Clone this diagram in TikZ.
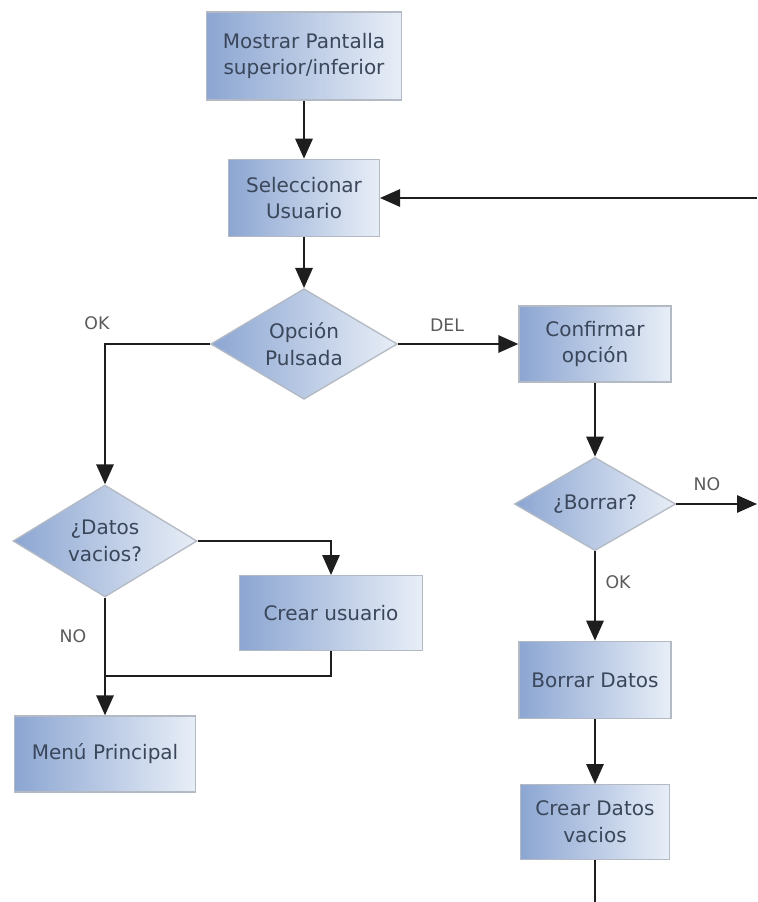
\documentclass[tikz,border=0pt]{standalone}
\usepackage{fontspec}
\setmainfont{DejaVu Sans}
\usepackage{xcolor}
\usetikzlibrary{shapes.geometric, arrows.meta, positioning}

\definecolor{boxdark}{RGB}{140,166,210}
\definecolor{boxlight}{RGB}{232,238,247}
\definecolor{boxline}{RGB}{180,186,196}
\definecolor{boxtext}{RGB}{58,70,90}
\definecolor{lbltext}{RGB}{90,90,90}
\definecolor{flowline}{RGB}{30,30,30}

\begin{document}
\begin{tikzpicture}[x=0.75pt, y=-0.75pt,
        proc/.style={draw=boxline, line width=1pt, left color=boxdark, right color=boxlight,
            text=boxtext, align=center, inner sep=2pt, font=\fontsize{15}{20}\selectfont},
        decis/.style={diamond, shape aspect=1.7, draw=boxline, line width=1pt,
            left color=boxdark, right color=boxlight, text=boxtext, align=center,
            inner sep=0pt, font=\fontsize{15}{20}\selectfont},
        lbl/.style={text=lbltext, font=\fontsize{13}{15}\selectfont},
        flow/.style={draw=flowline, line width=1.5pt, -{Triangle[length=15pt, width=13pt]}},
        plain/.style={draw=flowline, line width=1.5pt}]
        \useasboundingbox (0,0) rectangle (757,902);

        \node[proc, minimum width=146pt, minimum height=66pt] at (304,56) (mostrar) {Mostrar Pantalla\\superior/inferior};
        \node[proc, minimum width=113pt, minimum height=58pt] at (304,198) (selec) {Seleccionar\\Usuario};
        \node[decis, minimum width=140pt, minimum height=83pt] at (304,344) (opcion) {Opción\\Pulsada};
        \node[proc, minimum width=114pt, minimum height=57pt] at (595,344) (confirmar) {Confirmar\\opción};
        \node[decis, minimum width=121pt, minimum height=70pt] at (595,504) (borrar) {¿Borrar?};
        \node[proc, minimum width=114pt, minimum height=58pt] at (595,680) (bdatos) {Borrar Datos};
        \node[proc, minimum width=112pt, minimum height=56pt] at (595,822) (cdatos) {Crear Datos\\vacios};
        \node[decis, minimum width=138pt, minimum height=84pt] at (105,541) (vacios) {¿Datos\\vacios?};
        \node[proc, minimum width=137pt, minimum height=56pt] at (331,613) (cusuario) {Crear usuario};
        \node[proc, minimum width=136pt, minimum height=57pt] at (105,754) (menu) {Menú Principal};

        % free ends and join point
        \coordinate (vuelta) at (757,198);
        \coordinate (nosale) at (757,504);
        \coordinate (fin) at (595,902);
        \coordinate (union) at (105,676);

        % labels
        \node[lbl] at (97,323) (lok) {OK};
        \node[lbl] at (447,325) (ldel) {DEL};
        \node[lbl] at (707,484) (lno) {NO};
        \node[lbl] at (618,582) (lbok) {OK};
        \node[lbl] at (73,636) (lvno) {NO};

        \draw[flow] (mostrar) -- (selec);
        \draw[flow] (selec) -- (opcion);
        \draw[flow] (vuelta) -- (selec);
        \draw[flow] (opcion.west) -| (vacios.north);
        \draw[flow] (opcion) -- (confirmar);
        \draw[flow] (confirmar) -- (borrar);
        \draw[flow] (borrar.east) -- (nosale);
        \draw[flow] (borrar) -- (bdatos);
        \draw[flow] (bdatos) -- (cdatos);
        \draw[plain] (cdatos) -- (fin);
        \draw[flow] (vacios.east) -| (cusuario.north);
        \draw[flow] (vacios) -- (menu);
        \draw[plain] (cusuario.south) |- (union);
    \end{tikzpicture}
\end{document}
